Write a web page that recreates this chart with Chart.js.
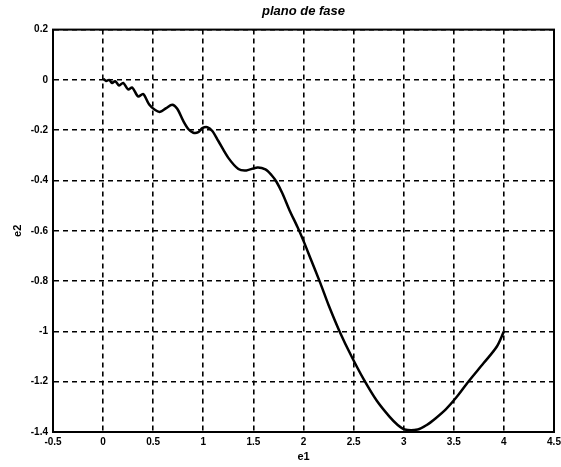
<!DOCTYPE html>
<html><head><meta charset="utf-8">
<script src="https://cdn.jsdelivr.net/npm/chart.js@4/dist/chart.umd.min.js"></script>
<style>html,body{margin:0;padding:0;background:#fff}</style>
</head><body>
<canvas id="c" width="561" height="467"></canvas>
<script>
// phase-plane trajectory (e1, e2)
const e1 = [0.00, 0.03, 0.06, 0.09, 0.12, 0.16, 0.20, 0.25, 0.29, 0.35, 0.40, 0.46, 0.52, 0.57, 0.63, 0.69, 0.74, 0.80, 0.85, 0.90, 0.95, 0.99, 1.04, 1.09, 1.15, 1.25, 1.35, 1.43, 1.54, 1.62, 1.68, 1.73, 1.79, 1.86, 1.94, 2.00, 2.07, 2.17, 2.25, 2.36, 2.48, 2.60, 2.73, 2.86, 2.94, 3.01, 3.14, 3.23, 3.32, 3.42, 3.52, 3.645, 3.80, 3.93, 4.00];
const e2 = [0.005, -0.004, 0.000, -0.012, -0.005, -0.022, -0.012, -0.038, -0.030, -0.066, -0.056, -0.098, -0.120, -0.127, -0.112, -0.099, -0.115, -0.163, -0.195, -0.210, -0.208, -0.192, -0.188, -0.203, -0.243, -0.310, -0.354, -0.360, -0.348, -0.356, -0.378, -0.405, -0.452, -0.518, -0.585, -0.640, -0.710, -0.810, -0.895, -1.000, -1.100, -1.190, -1.275, -1.340, -1.372, -1.390, -1.390, -1.372, -1.345, -1.310, -1.265, -1.200, -1.125, -1.060, -1.000];
const xTicks = [-0.5, 0, 0.5, 1, 1.5, 2, 2.5, 3, 3.5, 4, 4.5];
const yTicks = [0.2, 0, -0.2, -0.4, -0.6, -0.8, -1, -1.2, -1.4];
const titleText = 'plano de fase';
const xLabel = 'e1';
const yLabel = 'e2';

const points = e1.map((x, i) => ({x: x, y: e2[i]}));
const tickFont = {family: 'Liberation Sans', size: 10, weight: 'bold'};

const frame = {
  id: 'frame',
  beforeDatasetsDraw(chart) {
    const a = chart.chartArea, ctx = chart.ctx;
    ctx.save();
    ctx.strokeStyle = '#000';
    ctx.lineWidth = 2;
    ctx.strokeRect(a.left, a.top, a.right - a.left, a.bottom - a.top);
    ctx.restore();
  }
};

new Chart(document.getElementById('c'), {
  type: 'scatter',
  data: {
    datasets: [{
      data: points,
      showLine: true,
      pointRadius: 0,
      borderColor: '#000',
      borderWidth: 2.5,
      tension: 0.3,
      fill: false
    }]
  },
  options: {
    responsive: false,
    animation: false,
    devicePixelRatio: 1,
    layout: {padding: {left: 0, right: 7, top: 0, bottom: 0}},
    plugins: {
      legend: {display: false},
      tooltip: {enabled: false},
      title: {
        display: true,
        text: titleText,
        fullSize: false,
        color: '#000',
        font: {family: 'Liberation Sans', size: 13, weight: 'bold', style: 'italic'},
        padding: {top: 4, bottom: 10}
      }
    },
    scales: {
      x: {
        type: 'linear',
        min: -0.5, max: 4.5,
        afterBuildTicks: s => { s.ticks = xTicks.map(v => ({value: v})); },
        afterFit: s => { s.height = 35; s.paddingLeft = 0; s.paddingRight = 0; },
        ticks: {color: '#000', font: tickFont, padding: 4, maxRotation: 0, autoSkip: false,
                callback: v => String(v)},
        grid: {color: '#000', lineWidth: 1.6, drawTicks: false},
        border: {display: true, color: '#000', width: 2, dash: [5, 4]},
        title: {display: true, text: xLabel, color: '#000',
                font: {family: 'Liberation Sans', size: 11, weight: 'bold'},
                padding: {top: 0, bottom: 3}}
      },
      y: {
        type: 'linear',
        min: -1.4, max: 0.2,
        afterBuildTicks: s => { s.ticks = yTicks.map(v => ({value: v})); },
        afterFit: s => { s.width = 53; s.paddingTop = 0; s.paddingBottom = 0; },
        ticks: {color: '#000', font: tickFont, padding: 5, autoSkip: false,
                callback: v => String(v)},
        grid: {color: '#000', lineWidth: 1.6, drawTicks: false},
        border: {display: true, color: '#000', width: 2, dash: [5, 4]},
        title: {display: true, text: yLabel, color: '#000',
                font: {family: 'Liberation Sans', size: 11, weight: 'bold'},
                padding: {top: 11, bottom: 0}}
      }
    }
  },
  plugins: [frame]
});
</script>
</body></html>
